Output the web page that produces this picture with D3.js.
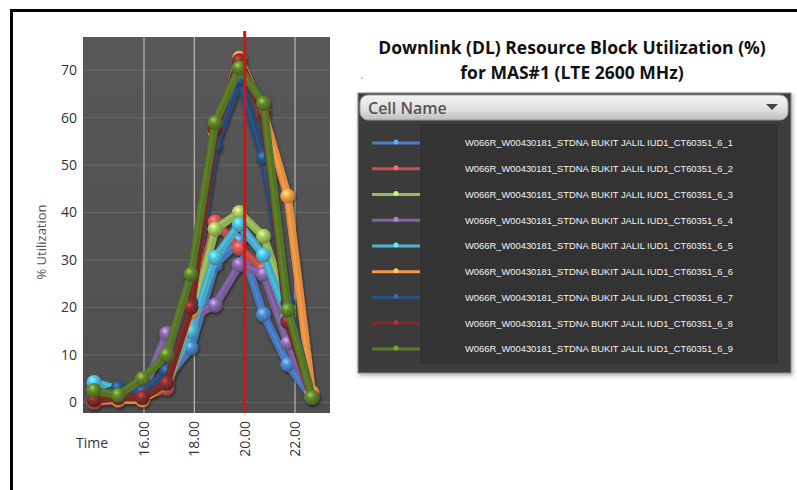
<!DOCTYPE html>
<html>
<head>
<meta charset="utf-8">
<script src="https://cdn.jsdelivr.net/npm/d3@7"></script>
<style>
  html, body { margin: 0; padding: 0; background: #ffffff; }
  svg { display: block; }
</style>
</head>
<body>
<svg id="chart" width="797" height="490"></svg>
<script>
// ---------- data ----------
const hours = [14, 15, 16, 17, 18, 19, 20, 21, 22, 23];
const tickHours = [16, 18, 20, 22];
const tickLabels = ["16.00", "18.00", "20.00", "22.00"];
const yTicks = [0, 10, 20, 30, 40, 50, 60, 70];
const markerHour = 20;

const cellNames = [
  "W066R_W00430181_STDNA BUKIT JALIL IUD1_CT60351_6_1",
  "W066R_W00430181_STDNA BUKIT JALIL IUD1_CT60351_6_2",
  "W066R_W00430181_STDNA BUKIT JALIL IUD1_CT60351_6_3",
  "W066R_W00430181_STDNA BUKIT JALIL IUD1_CT60351_6_4",
  "W066R_W00430181_STDNA BUKIT JALIL IUD1_CT60351_6_5",
  "W066R_W00430181_STDNA BUKIT JALIL IUD1_CT60351_6_6",
  "W066R_W00430181_STDNA BUKIT JALIL IUD1_CT60351_6_7",
  "W066R_W00430181_STDNA BUKIT JALIL IUD1_CT60351_6_8",
  "W066R_W00430181_STDNA BUKIT JALIL IUD1_CT60351_6_9"
];
const seriesColors = ["#4a7fc4", "#c9504c", "#9bbb59", "#8064a2", "#4bb4d2",
                      "#f79646", "#2b4f7e", "#7a2c2a", "#5b7a2a"];

const cell1 = [1.0, 2.0, 1.0, 5.0, 11.5, 29.0, 34.0, 18.5, 8.0, 1.0];
const cell2 = [0.0, 0.5, 1.0, 3.0, 17.0, 38.0, 32.5, 28.0, 17.0, 1.0];
const cell3 = [2.5, 1.5, 1.0, 4.0, 16.0, 36.5, 40.0, 35.0, 20.0, 1.0];
const cell4 = [0.5, 1.0, 2.0, 14.5, 18.0, 20.5, 29.0, 27.0, 12.5, 1.0];
const cell5 = [4.2, 2.8, 1.0, 5.0, 15.0, 30.5, 37.5, 31.0, 18.0, 1.0];
const cell6 = [0.5, 0.5, 0.5, 4.0, 19.0, 57.0, 72.5, 61.0, 43.5, 2.0];
const cell7 = [1.0, 3.0, 2.0, 6.5, 21.0, 54.0, 68.0, 51.5, 21.0, 1.0];
const cell8 = [0.5, 1.0, 1.0, 4.0, 20.0, 57.5, 72.0, 61.0, 17.0, 1.0];
const cell9 = [2.5, 1.5, 5.0, 10.0, 27.0, 59.0, 70.5, 63.0, 19.5, 1.0];
const seriesValues = [cell1, cell2, cell3, cell4, cell5, cell6, cell7, cell8, cell9];

const titleLines = ["Downlink (DL) Resource Block Utilization (%)", "for MAS#1 (LTE 2600 MHz)"];
const legendHeader = "Cell Name";

// ---------- drawing ----------
const svg = d3.select("#chart");
const defs = svg.append("defs");

// outer frame
svg.append("rect")
  .attr("x", 11.5).attr("y", 10.5).attr("width", 800).attr("height", 500)
  .attr("fill", "none").attr("stroke", "#000").attr("stroke-width", 3);

const plot = { left: 83, right: 330, top: 37, bottom: 413 };
const x = d3.scaleLinear().domain([14, 23]).range([94, 312]);
const xGrid = d3.scaleLinear().domain([16, 22]).range([144, 295]);
const y = d3.scaleLinear().domain([-2.25, 77]).range([plot.bottom, plot.top]);

// plot background
const bgGrad = defs.append("linearGradient").attr("id", "bg").attr("x1", 0).attr("y1", 0).attr("x2", 0).attr("y2", 1);
bgGrad.append("stop").attr("offset", "0%").attr("stop-color", "#585858");
bgGrad.append("stop").attr("offset", "100%").attr("stop-color", "#4e4e4e");
svg.append("rect")
  .attr("x", plot.left).attr("y", plot.top)
  .attr("width", plot.right - plot.left).attr("height", plot.bottom - plot.top)
  .attr("fill", "url(#bg)");

// horizontal grid
svg.append("g").selectAll("line").data(yTicks).join("line")
  .attr("x1", plot.left).attr("x2", plot.right)
  .attr("y1", d => y(d)).attr("y2", d => y(d))
  .attr("stroke", "#6a6a6a").attr("stroke-width", 1);

// vertical grid
svg.append("g").selectAll("line").data(tickHours.filter(h => h !== markerHour)).join("line")
  .attr("x1", d => xGrid(d)).attr("x2", d => xGrid(d))
  .attr("y1", plot.top).attr("y2", plot.bottom)
  .attr("stroke", "#b8b8b8").attr("stroke-width", 1.2);

// y tick labels
svg.append("g").selectAll("text").data(yTicks).join("text")
  .attr("x", 77).attr("y", d => y(d)).attr("dy", "0.35em")
  .attr("text-anchor", "end")
  .attr("font-family", "Open Sans, sans-serif").attr("font-size", 14)
  .attr("fill", "#333")
  .text(d => d);

// y label
svg.append("text")
  .attr("transform", `translate(41,242) rotate(-90)`)
  .attr("text-anchor", "middle").attr("dy", "0.35em")
  .attr("font-family", "Open Sans, sans-serif").attr("font-size", 13)
  .attr("fill", "#555")
  .text("% Utilization");

// x tick labels (rotated)
svg.append("g").selectAll("text").data(tickHours).join("text")
  .attr("transform", d => `translate(${xGrid(d)},${plot.bottom + 8}) rotate(-90)`)
  .attr("text-anchor", "end").attr("dy", "0.35em")
  .attr("font-family", "Open Sans, sans-serif").attr("font-size", 14)
  .attr("fill", "#333")
  .text((d, i) => tickLabels[i]);

svg.append("text")
  .attr("x", 92).attr("y", 443).attr("dy", "0.35em")
  .attr("text-anchor", "middle")
  .attr("font-family", "Open Sans, sans-serif").attr("font-size", 14)
  .attr("fill", "#333")
  .text("Time");

// gradients for glossy markers
function shade(c, k) { return d3.color(c).brighter(k).formatHex(); }
seriesColors.forEach((c, i) => {
  const g = defs.append("radialGradient").attr("id", "ball" + i)
    .attr("cx", "38%").attr("cy", "32%").attr("r", "70%");
  g.append("stop").attr("offset", "0%").attr("stop-color", shade(c, 1.6));
  g.append("stop").attr("offset", "35%").attr("stop-color", shade(c, 0.3));
  g.append("stop").attr("offset", "100%").attr("stop-color", shade(c, -0.9));
});
const shadowF = defs.append("filter").attr("id", "shadow").attr("x", "-20%").attr("y", "-20%").attr("width", "140%").attr("height", "140%");
shadowF.append("feGaussianBlur").attr("in", "SourceAlpha").attr("stdDeviation", 1.5);
shadowF.append("feOffset").attr("dx", 1).attr("dy", 2).attr("result", "ob");
shadowF.append("feComponentTransfer").append("feFuncA").attr("type", "linear").attr("slope", 0.5);
const m = shadowF.append("feMerge");
m.append("feMergeNode");
m.append("feMergeNode").attr("in", "SourceGraphic");

const line = d3.line().x((d, i) => x(hours[i])).y(d => y(d));
const series = seriesValues.map((v, i) => ({ v, i, c: seriesColors[i] }));

const gSeries = svg.append("g").attr("filter", "url(#shadow)");
series.forEach(s => {
  const g = gSeries.append("g");
  g.append("path").attr("d", line(s.v))
    .attr("fill", "none").attr("stroke", shade(s.c, -0.2)).attr("stroke-width", 8)
    .attr("stroke-linejoin", "round").attr("stroke-linecap", "round");
  g.append("path").attr("d", line(s.v))
    .attr("fill", "none").attr("stroke", shade(s.c, 0.5)).attr("stroke-width", 2.5)
    .attr("stroke-opacity", 0.45)
    .attr("transform", "translate(-1,-1.5)")
    .attr("stroke-linejoin", "round");
  g.selectAll("circle").data(s.v).join("circle")
    .attr("cx", (d, k) => x(hours[k])).attr("cy", d => y(d))
    .attr("r", 7.5).attr("fill", `url(#ball${s.i})`);
});

// red marker line at 20.00
svg.append("line")
  .attr("x1", xGrid(markerHour)).attr("x2", xGrid(markerHour))
  .attr("y1", plot.top - 6).attr("y2", plot.bottom)
  .attr("stroke", "#e01010").attr("stroke-width", 3);

// ---------- title ----------
svg.append("g").selectAll("text").data(titleLines).join("text")
  .attr("x", 572).attr("y", (d, i) => 54 + i * 25)
  .attr("text-anchor", "middle")
  .attr("font-family", "Open Sans, sans-serif").attr("font-weight", "bold").attr("font-size", 17.5)
  .attr("fill", "#111")
  .text(d => d);
svg.append("circle").attr("cx", 362).attr("cy", 78).attr("r", 0.8).attr("fill", "#777");

// ---------- legend panel ----------
const lg = { x: 358, y: 93, w: 433, h: 280 };
const pShadow = defs.append("filter").attr("id", "pshadow").attr("x", "-5%").attr("y", "-5%").attr("width", "110%").attr("height", "115%");
pShadow.append("feGaussianBlur").attr("in", "SourceAlpha").attr("stdDeviation", 2);
pShadow.append("feOffset").attr("dx", 1).attr("dy", 2).attr("result", "ob");
pShadow.append("feComponentTransfer").append("feFuncA").attr("type", "linear").attr("slope", 0.35);
const pm = pShadow.append("feMerge");
pm.append("feMergeNode");
pm.append("feMergeNode").attr("in", "SourceGraphic");

svg.append("rect").attr("x", lg.x).attr("y", lg.y).attr("width", lg.w).attr("height", lg.h)
  .attr("fill", "#3d3d3d").attr("stroke", "#8a8a8a").attr("stroke-width", 1)
  .attr("filter", "url(#pshadow)");
// list area
svg.append("rect").attr("x", 420).attr("y", 124).attr("width", 358).attr("height", 240)
  .attr("fill", "#333333");
svg.append("rect").attr("x", lg.x + 1).attr("y", 124).attr("width", 61).attr("height", 240)
  .attr("fill", "#3b3b3b");

// header pill
const hg = defs.append("linearGradient").attr("id", "hdr").attr("x1", 0).attr("y1", 0).attr("x2", 0).attr("y2", 1);
hg.append("stop").attr("offset", "0%").attr("stop-color", "#f4f4f4");
hg.append("stop").attr("offset", "60%").attr("stop-color", "#dedede");
hg.append("stop").attr("offset", "100%").attr("stop-color", "#bdbdbd");
svg.append("rect").attr("x", 360).attr("y", 95).attr("width", 428).attr("height", 25).attr("rx", 8)
  .attr("fill", "url(#hdr)").attr("stroke", "#9a9a9a");
svg.append("text").attr("x", 368).attr("y", 108).attr("dy", "0.35em")
  .attr("font-family", "Open Sans, sans-serif").attr("font-weight", 600).attr("font-size", 16)
  .attr("fill", "#555").text(legendHeader);
svg.append("path").attr("d", "M766,104 L778,104 L772,110 Z").attr("fill", "#444");

// legend rows
const rowY = d3.scaleLinear().domain([0, 8]).range([143, 349]);
const rows = svg.append("g").selectAll("g").data(series).join("g")
  .attr("transform", d => `translate(0,${rowY(d.i)})`);
rows.append("line").attr("x1", 372).attr("x2", 420).attr("y1", 0).attr("y2", 0)
  .attr("stroke", d => d.c).attr("stroke-width", 3);
rows.append("circle").attr("cx", 396).attr("cy", -1).attr("r", 2.5)
  .attr("fill", d => shade(d.c, 0.8));
rows.append("text").attr("x", 465).attr("y", 0).attr("dy", "0.35em")
  .attr("font-family", "Liberation Sans Narrow, Arial Narrow, sans-serif").attr("font-size", 9.5)
  .attr("textLength", 268).attr("lengthAdjust", "spacingAndGlyphs")
  .attr("fill", "#f4f4f4")
  .text(d => cellNames[d.i]);
</script>
</body>
</html>
